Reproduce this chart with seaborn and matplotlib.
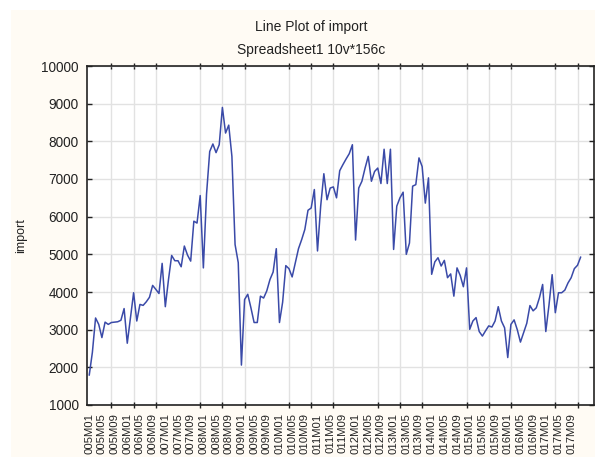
#!/usr/bin/env python3
""" Line plot of monthly import values, 2005M01 - 2017M12 """

import matplotlib
matplotlib.use("Agg")
import pandas as pd
import matplotlib.pyplot as plt
from matplotlib.patches import Rectangle
import seaborn as sns

# Monthly import values (156 cases)
imports = [
  1790, 2400, 3310, 3140, 2790, 3200, 3140, 3190, 3200, 3210, 3250, 3560,
  2640, 3300, 3980, 3230, 3670, 3645, 3740, 3860, 4175, 4070, 3960, 4760,
  3610, 4330, 4970, 4830, 4830, 4670, 5220, 4980, 4820, 5880, 5830, 6560,
  4640, 6600, 7730, 7930, 7700, 7910, 8900, 8220, 8430, 7600, 5260, 4780,
  2060, 3800, 3940, 3580, 3190, 3190, 3890, 3840, 4030, 4330, 4530, 5150,
  3190, 3730, 4700, 4620, 4400, 4770, 5150, 5390, 5660, 6170, 6230, 6720,
  5090, 6280, 7140, 6450, 6760, 6790, 6500, 7220, 7380, 7530, 7670, 7910,
  5380, 6760, 6940, 7290, 7600, 6940, 7200, 7290, 6880, 7790, 6880, 7790,
  5130, 6280, 6500, 6650, 5000, 5300, 6810, 6850, 7560, 7330, 6360, 7030,
  4470, 4800, 4910, 4690, 4840, 4380, 4480, 3890, 4640, 4440, 4140, 4640,
  3010, 3230, 3320, 2950, 2830, 2970, 3100, 3070, 3230, 3610, 3230, 3050,
  2260, 3140, 3260, 3000, 2670, 2920, 3170, 3640, 3500, 3580, 3850, 4200,
  2950, 3650, 4460, 3450, 3980, 3980, 4050, 4240, 4380, 4620, 4710, 4930,
]
years = list(range(2005, 2018))
months = list(range(1, 13))
# Case labels as they show on the axis (leading digit cut off)
periods = [F"{y % 1000:03d}M{m:02d}" for y in years for m in months]

df = pd.DataFrame({"case": range(len(imports)), "import": imports})

sns.set_style("white")
plt.rcParams["font.family"] = ["Liberation Sans", "DejaVu Sans"]

W, H = 595, 457
fig = plt.figure(figsize=(W / 100, H / 100), dpi=100)
# cream panel behind the graph
fig.patches.append(Rectangle((11 / W, 0), 1, 1 - 10 / H, transform=fig.transFigure,
                             facecolor="#fffbf4", edgecolor="none", zorder=-1))
ax = fig.add_axes([87 / W, 1 - 405 / H, (594 - 87) / W, (405 - 66) / H])
ax.set_facecolor("white")

sns.lineplot(data=df, x="case", y="import", ax=ax, color="#3a4aa8", lw=1.1)

ax.set_xlim(-0.7, 159.2)
ax.set_ylim(1000, 10000)

# labels every 4 cases, grid and tick marks every 7 cases
ax.set_xticks(range(0, len(periods), 4))
ax.set_xticklabels(periods[::4], rotation=90, fontsize=8.1, color="#222222")
ax.set_xticks(range(0, len(periods), 7), minor=True)
ax.tick_params(axis="x", which="major", length=0, pad=6)
ax.tick_params(axis="x", which="minor", direction="inout", length=5, width=1,
               top=True, bottom=True, color="#222222")
ax.set_yticks(range(1000, 10001, 1000))
ax.tick_params(axis="y", which="major", direction="in", length=3.5, width=1,
               left=True, right=True, labelsize=9.8, labelcolor="#222222", pad=6,
               color="#222222")
ax.grid(False)
ax.grid(True, axis="x", which="minor", color="#e2e2e2", lw=1)
ax.grid(True, axis="y", which="major", color="#e2e2e2", lw=1)
ax.set_axisbelow(True)

for side in ["left", "bottom", "top", "right"]:
  ax.spines[side].set_visible(True)
  ax.spines[side].set_color("#222222")
  ax.spines[side].set_linewidth(1.2)

ax.set_xlabel("")
ax.set_ylabel("import", fontsize=9, color="#222222", labelpad=10)

fig.text(311 / W, 1 - 27 / H, "Line Plot of import", ha="center", va="center",
         fontsize=10, color="#222222")
fig.text(311 / W, 1 - 50 / H, "Spreadsheet1 10v*156c", ha="center", va="center",
         fontsize=10, color="#222222")

fig.savefig("out.png", dpi=100)
